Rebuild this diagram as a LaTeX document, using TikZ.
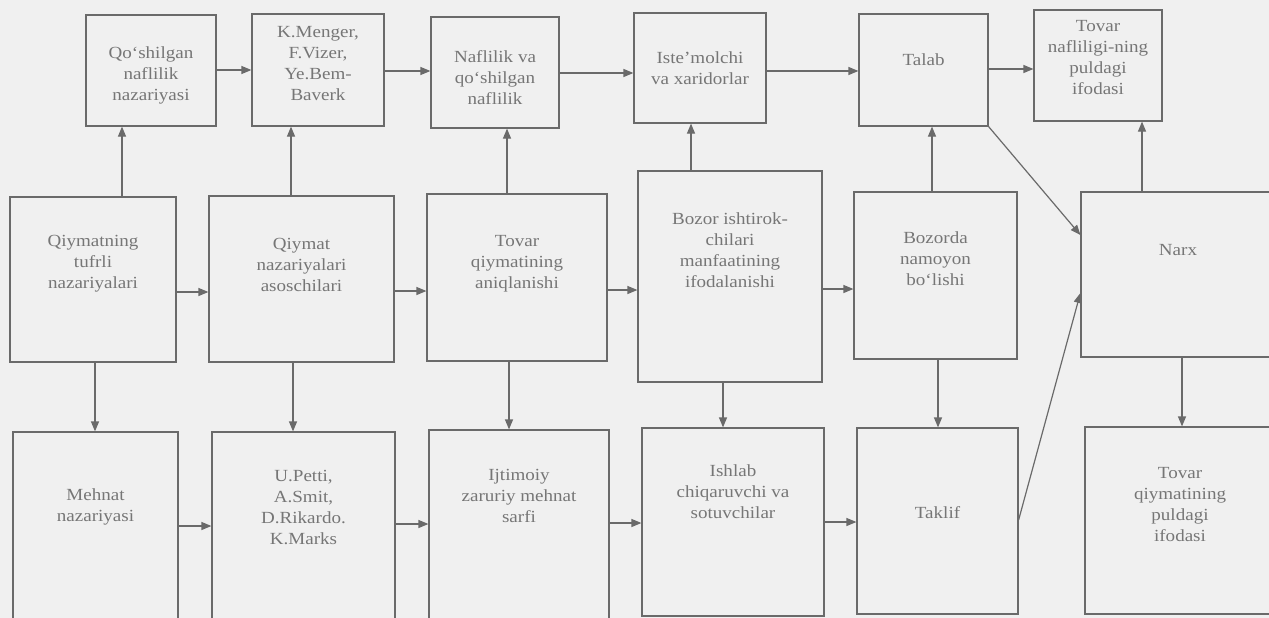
\documentclass[tikz,border=0pt]{standalone}
\usepackage{fontspec}
\setmainfont{Liberation Serif}[FakeStretch=1.12]
\usetikzlibrary{arrows.meta}
\definecolor{ink}{HTML}{6A6A6A}
\definecolor{txt}{HTML}{767676}
\definecolor{paper}{HTML}{F0F0F0}
\tikzset{
  bx/.style={draw=ink, line width=1.2pt, inner xsep=4pt, inner ysep=0pt, text=txt,
    font=\fontsize{17}{21}\selectfont},
  arr/.style={draw=ink, line width=1.2pt, -{Triangle[length=10pt,width=8pt]}},
}
% name, x1, y1, x2, y2, upward shift (x2), text
\newcommand\mkbox[7]{%
  \node[bx] (#1) at ({(#2+#4)/2},{(#3+#5)/2})
    {\parbox[c][\dimexpr #5pt-#3pt\relax][c]{\dimexpr #4pt-#2pt-8pt\relax}{\centering #7\par\vspace*{#6pt}}};}
\begin{document}
\begin{tikzpicture}[x=1pt,y=-1pt]
\fill[paper] (0,0) rectangle (1269,618);
\path[use as bounding box] (0,0) rectangle (1269,618);
% top row
\mkbox{A1}{86}{15}{216}{126}{-10}{Qo‘shilgan\\naflilik\\nazariyasi}
\mkbox{A2}{252}{14}{384}{126}{12}{K.Menger,\\F.Vizer,\\Ye.Bem-\\Baverk}
\mkbox{A3}{431}{17}{559}{128}{-10}{Naflilik va\\qo‘shilgan\\naflilik}
\mkbox{A4}{634}{13}{766}{123}{0}{Iste’molchi\\va xaridorlar}
\mkbox{A5}{859}{14}{988}{126}{20}{Talab}
\mkbox{A6}{1034}{10}{1162}{121}{16}{Tovar\\nafliligi-ning\\puldagi\\ifodasi}
% middle row
\mkbox{B1}{10}{197}{176}{362}{31}{Qiymatning\\tufrli\\nazariyalari}
\mkbox{B2}{209}{196}{394}{362}{28}{Qiymat\\nazariyalari\\asoschilari}
\mkbox{B3}{427}{194}{607}{361}{27}{Tovar\\qiymatining\\aniqlanishi}
\mkbox{B4}{638}{171}{822}{382}{53}{Bozor ishtirok-\\chilari\\manfaatining\\ifodalanishi}
\mkbox{B5}{854}{192}{1017}{359}{33}{Bozorda\\namoyon\\bo‘lishi}
\mkbox{B6}{1081}{192}{1275}{357}{49}{Narx}
% bottom row
\mkbox{C1}{13}{432}{178}{624}{42}{Mehnat\\nazariyasi}
\mkbox{C2}{212}{432}{395}{624}{42}{U.Petti,\\A.Smit,\\D.Rikardo.\\K.Marks}
\mkbox{C3}{429}{430}{609}{624}{62}{Ijtimoiy\\zaruriy mehnat\\sarfi}
\mkbox{C4}{642}{428}{824}{616}{60}{Ishlab\\chiqaruvchi va\\sotuvchilar}
\mkbox{C5}{857}{428}{1018}{614}{16}{Taklif}
\mkbox{C6}{1085}{427}{1275}{614}{31}{Tovar\\qiymatining\\puldagi\\ifodasi}
% top row arrows
\draw[arr] (A1.east |- 0,70) -- (A2.west |- 0,70);
\draw[arr] (A2.east |- 0,71) -- (A3.west |- 0,71);
\draw[arr] (A3.east |- 0,73) -- (A4.west |- 0,73);
\draw[arr] (A4.east |- 0,71) -- (A5.west |- 0,71);
\draw[arr] (A5.east |- 0,69) -- (A6.west |- 0,69);
% middle to top
\draw[arr] (122,0 |- B1.north) -- (122,0 |- A1.south);
\draw[arr] (291,0 |- B2.north) -- (291,0 |- A2.south);
\draw[arr] (507,0 |- B3.north) -- (507,0 |- A3.south);
\draw[arr] (691,0 |- B4.north) -- (691,0 |- A4.south);
\draw[arr] (932,0 |- B5.north) -- (932,0 |- A5.south);
\draw[arr] (1142,0 |- B6.north) -- (1142,0 |- A6.south);
% middle row arrows
\draw[arr] (B1.east |- 0,292) -- (B2.west |- 0,292);
\draw[arr] (B2.east |- 0,291) -- (B3.west |- 0,291);
\draw[arr] (B3.east |- 0,290) -- (B4.west |- 0,290);
\draw[arr] (B4.east |- 0,289) -- (B5.west |- 0,289);
% middle to bottom
\draw[arr] (95,0 |- B1.south) -- (95,0 |- C1.north);
\draw[arr] (293,0 |- B2.south) -- (293,0 |- C2.north);
\draw[arr] (509,0 |- B3.south) -- (509,0 |- C3.north);
\draw[arr] (723,0 |- B4.south) -- (723,0 |- C4.north);
\draw[arr] (938,0 |- B5.south) -- (938,0 |- C5.north);
\draw[arr] (1182,0 |- B6.south) -- (1182,0 |- C6.north);
% bottom row arrows
\draw[arr] (C1.east |- 0,526) -- (C2.west |- 0,526);
\draw[arr] (C2.east |- 0,524) -- (C3.west |- 0,524);
\draw[arr] (C3.east |- 0,523) -- (C4.west |- 0,523);
\draw[arr] (C4.east |- 0,522) -- (C5.west |- 0,522);
% diagonals to Narx
\draw[arr] (A5.south east) -- (B6.west |- 0,235);
\draw[arr] (C5.east |- 0,520) -- (B6.west |- 0,293);
\end{tikzpicture}
\end{document}
